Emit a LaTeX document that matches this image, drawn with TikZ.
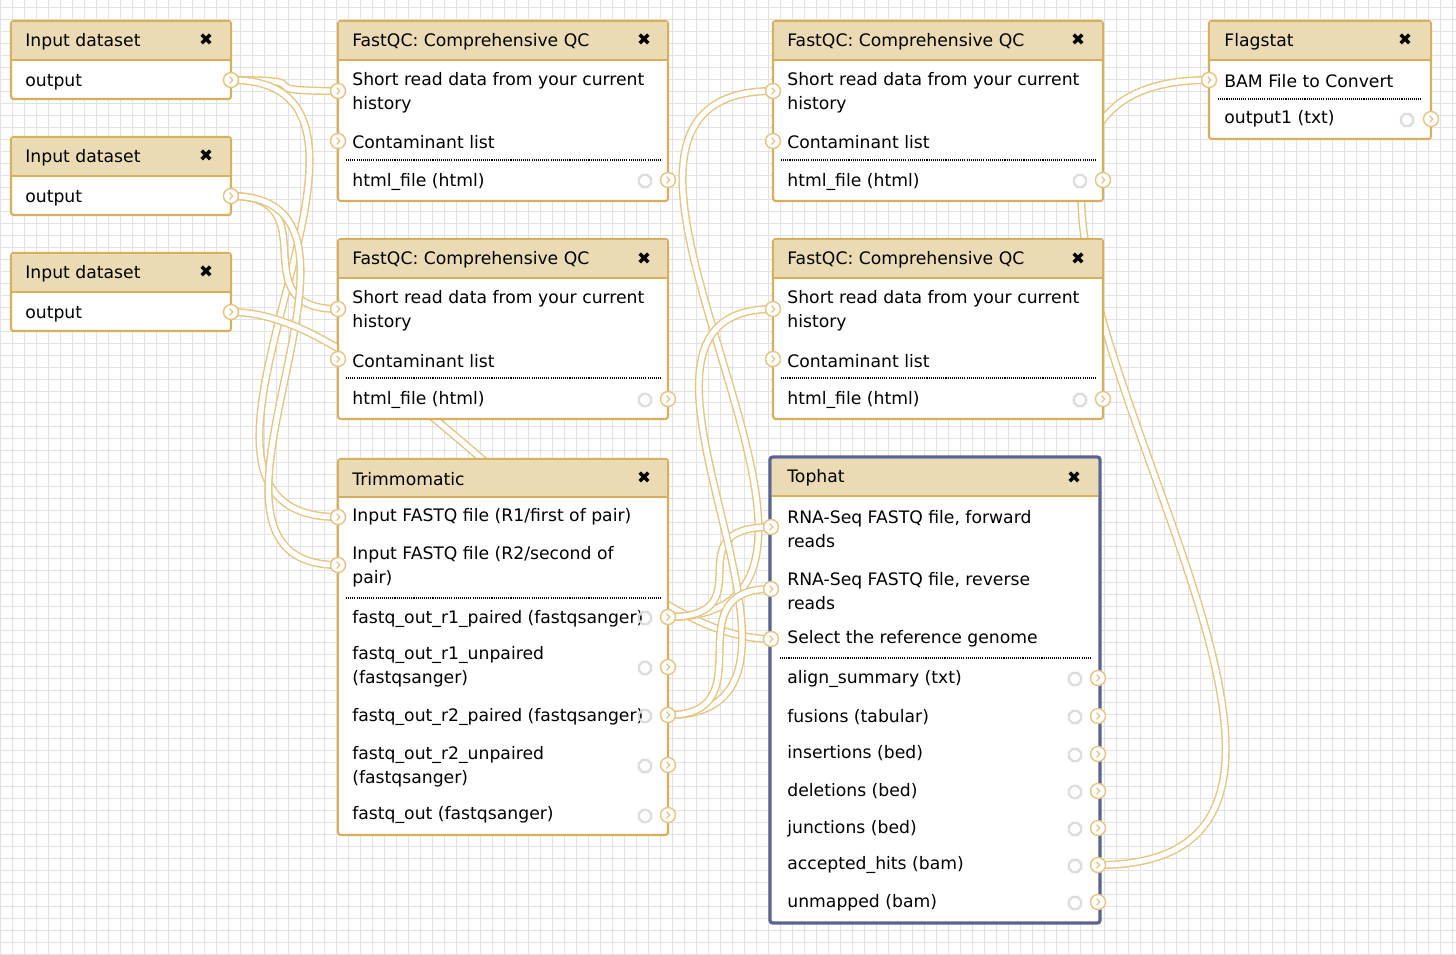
\documentclass[tikz,border=0pt]{standalone}
\usepackage{fontspec}
\setmainfont{DejaVu Sans}
\usetikzlibrary{shapes.geometric,backgrounds}

\definecolor{boxgold}{RGB}{214,175,95}
\definecolor{wiregold}{RGB}{226,196,132}
\definecolor{hdrtan}{RGB}{235,219,180}
\definecolor{topblue}{RGB}{91,100,145}
\definecolor{gridgray}{RGB}{226,226,226}
\definecolor{geargray}{RGB}{220,220,220}

\pgfdeclarelayer{grid}
\pgfdeclarelayer{wires}
\pgfsetlayers{grid,wires,main}

\tikzset{
	box/.style={draw=boxgold, line width=1.2pt, fill=white, rounded corners=1.5pt},
	selbox/.style={box, draw=topblue, line width=1.8pt},
	hline/.style={draw=boxgold, line width=1pt},
	sep/.style={line width=0.6pt, dash pattern=on 0.6pt off 0.6pt},
	title/.style={anchor=west, inner sep=0pt, yshift=-1.1pt},
	row/.style={anchor=west, align=left, inner sep=0pt, yshift=-1.1pt},
	closex/.style={inner sep=0pt, font=\fontsize{9.5}{10}\selectfont},
	port/.style={circle, draw=wiregold, fill=white, line width=0.8pt, minimum size=0.3cm, inner sep=0pt,
		path picture={\draw[wiregold, line width=0.7pt] ([xshift=-0.8pt,yshift=1.9pt]path picture bounding box.center) -- ++(1.8pt,-1.9pt) -- ++(-1.8pt,-1.9pt);}},
	gear/.style={regular polygon, regular polygon sides=8, draw=geargray, line width=1.3pt, minimum size=0.26cm, inner sep=0pt},
	wire/.style={draw=wiregold, line width=0.8pt, double=white, double distance=3pt},
	gridline/.style={draw=gridgray, line width=0.5pt}
}

\begin{document}
\begin{tikzpicture}[x=0.02cm, y=-0.02cm, font=\fontsize{9.8}{13.6}\selectfont]
	\useasboundingbox (0,0) rectangle (1456,954);
	\clip (0,0) rectangle (1456,954);
	
	\begin{pgfonlayer}{grid}
		\fill[white] (0,0) rectangle (1456,954);
		\draw[gridline, step=0.24cm, xshift=0.01cm, yshift=-0.14cm] (-0.24cm,-19.32cm) grid (29.36cm,0.24cm);
	\end{pgfonlayer}
	
	% input datasets
	\draw[box] (11,21) rectangle (231,99);
	\fill[hdrtan] (12,22) rectangle (230,60);
	\draw[hline] (12,60) -- (230,60);
	\node[title] (in1title) at (25,40) {Input dataset};
	\node[closex] (in1close) at (206,40) {✖};
	\node[row] (in1text) at (25,80) {output};
	\node[port] (in1out) at (231,80) {};
	
	\draw[box] (11,137) rectangle (231,215);
	\fill[hdrtan] (12,138) rectangle (230,176);
	\draw[hline] (12,176) -- (230,176);
	\node[title] (in2title) at (25,156) {Input dataset};
	\node[closex] (in2close) at (206,156) {✖};
	\node[row] (in2text) at (25,196) {output};
	\node[port] (in2out) at (231,196) {};
	
	\draw[box] (11,253) rectangle (231,331);
	\fill[hdrtan] (12,254) rectangle (230,292);
	\draw[hline] (12,292) -- (230,292);
	\node[title] (in3title) at (25,272) {Input dataset};
	\node[closex] (in3close) at (206,272) {✖};
	\node[row] (in3text) at (25,312) {output};
	\node[port] (in3out) at (231,312) {};
	
	% fastqc boxes
	\draw[box] (338,21) rectangle (668,201);
	\fill[hdrtan] (339,22) rectangle (667,60);
	\draw[hline] (339,60) -- (667,60);
	\node[title] (fq1title) at (352,40) {FastQC: Comprehensive QC};
	\node[closex] (fq1close) at (644,40) {✖};
	\node[row] (fq1short) at (352,91) {Short read data from your current\\history};
	\node[row] (fq1cont) at (352,140) {Contaminant list};
	\draw[sep] (346,160) -- (662,160);
	\node[row] (fq1html) at (352,180) {html\_file (html)};
	\node[port] (fq1in1) at (338,91) {};
	\node[port] (fq1in2) at (338,141) {};
	\node[gear] (fq1gear) at (645,181) {};
	\node[port] (fq1out) at (668,180) {};
	
	\draw[box] (338,239) rectangle (668,419);
	\fill[hdrtan] (339,240) rectangle (667,278);
	\draw[hline] (339,278) -- (667,278);
	\node[title] (fq2title) at (352,258) {FastQC: Comprehensive QC};
	\node[closex] (fq2close) at (644,259) {✖};
	\node[row] (fq2short) at (352,309) {Short read data from your current\\history};
	\node[row] (fq2cont) at (352,359) {Contaminant list};
	\draw[sep] (346,378) -- (662,378);
	\node[row] (fq2html) at (352,398) {html\_file (html)};
	\node[port] (fq2in1) at (338,309) {};
	\node[port] (fq2in2) at (338,359) {};
	\node[gear] (fq2gear) at (645,400) {};
	\node[port] (fq2out) at (668,399) {};
	
	\draw[box] (773,21) rectangle (1103,201);
	\fill[hdrtan] (774,22) rectangle (1102,60);
	\draw[hline] (774,60) -- (1102,60);
	\node[title] (fq3title) at (787,40) {FastQC: Comprehensive QC};
	\node[closex] (fq3close) at (1078,40) {✖};
	\node[row] (fq3short) at (787,91) {Short read data from your current\\history};
	\node[row] (fq3cont) at (787,140) {Contaminant list};
	\draw[sep] (781,160) -- (1097,160);
	\node[row] (fq3html) at (787,180) {html\_file (html)};
	\node[port] (fq3in1) at (773,91) {};
	\node[port] (fq3in2) at (773,141) {};
	\node[gear] (fq3gear) at (1080,181) {};
	\node[port] (fq3out) at (1103,180) {};
	
	\draw[box] (773,239) rectangle (1103,419);
	\fill[hdrtan] (774,240) rectangle (1102,278);
	\draw[hline] (774,278) -- (1102,278);
	\node[title] (fq4title) at (787,258) {FastQC: Comprehensive QC};
	\node[closex] (fq4close) at (1078,259) {✖};
	\node[row] (fq4short) at (787,309) {Short read data from your current\\history};
	\node[row] (fq4cont) at (787,359) {Contaminant list};
	\draw[sep] (781,378) -- (1097,378);
	\node[row] (fq4html) at (787,398) {html\_file (html)};
	\node[port] (fq4in1) at (773,309) {};
	\node[port] (fq4in2) at (773,359) {};
	\node[gear] (fq4gear) at (1080,400) {};
	\node[port] (fq4out) at (1103,399) {};
	
	% trimmomatic
	\draw[box] (338,459) rectangle (668,835);
	\fill[hdrtan] (339,460) rectangle (667,497);
	\draw[hline] (339,497) -- (667,497);
	\node[title] (trimtitle) at (352,477) {Trimmomatic};
	\node[closex] (trimclose) at (644,478) {✖};
	\node[row] (trimr1) at (352,515) {Input FASTQ file (R1/first of pair)};
	\node[row] (trimr2) at (352,565) {Input FASTQ file (R2/second of\\pair)};
	\draw[sep] (346,598) -- (662,598);
	\node[row] (trimt1) at (352,617) {fastq\_out\_r1\_paired (fastqsanger)};
	\node[row] (trimt2) at (352,665) {fastq\_out\_r1\_unpaired\\(fastqsanger)};
	\node[row] (trimt3) at (352,715) {fastq\_out\_r2\_paired (fastqsanger)};
	\node[row] (trimt4) at (352,765) {fastq\_out\_r2\_unpaired\\(fastqsanger)};
	\node[row] (trimt5) at (352,813) {fastq\_out (fastqsanger)};
	\node[port] (trimin1) at (338,517) {};
	\node[port] (trimin2) at (338,565) {};
	\node[gear] (trimg1) at (645,618) {};
	\node[gear] (trimg2) at (645,668) {};
	\node[gear] (trimg3) at (645,716) {};
	\node[gear] (trimg4) at (645,766) {};
	\node[gear] (trimg5) at (645,816) {};
	\node[port] (trimo1) at (668,617) {};
	\node[port] (trimo2) at (668,667) {};
	\node[port] (trimo3) at (668,715) {};
	\node[port] (trimo4) at (668,765) {};
	\node[port] (trimo5) at (668,815) {};
	
	% tophat
	\draw[selbox] (770,457) rectangle (1100,923);
	\fill[hdrtan] (772,459) rectangle (1098,496);
	\draw[hline] (772,496) -- (1098,496);
	\node[title] (thtitle) at (787,476) {Tophat};
	\node[closex] (thclose) at (1074,478) {✖};
	\node[row] (thfwd) at (787,527) {RNA-Seq FASTQ file, forward\\reads};
	\node[row] (threv) at (787,589) {RNA-Seq FASTQ file, reverse\\reads};
	\node[row] (thref) at (787,637) {Select the reference genome};
	\draw[sep] (780,658) -- (1092,658);
	\node[row] (tht1) at (787,677) {align\_summary (txt)};
	\node[row] (tht2) at (787,715) {fusions (tabular)};
	\node[row] (tht3) at (787,751) {insertions (bed)};
	\node[row] (tht4) at (787,789) {deletions (bed)};
	\node[row] (tht5) at (787,827) {junctions (bed)};
	\node[row] (tht6) at (787,863) {accepted\_hits (bam)};
	\node[row] (tht7) at (787,901) {unmapped (bam)};
	\node[port] (thin1) at (771,527) {};
	\node[port] (thin2) at (771,589) {};
	\node[port] (thin3) at (771,639) {};
	\node[gear] (thg1) at (1075,679) {};
	\node[gear] (thg2) at (1075,717) {};
	\node[gear] (thg3) at (1075,755) {};
	\node[gear] (thg4) at (1075,792) {};
	\node[gear] (thg5) at (1075,829) {};
	\node[gear] (thg6) at (1075,866) {};
	\node[gear] (thg7) at (1075,903) {};
	\node[port] (thsum) at (1098,678) {};
	\node[port] (thfus) at (1098,716) {};
	\node[port] (thins) at (1098,754) {};
	\node[port] (thdel) at (1098,791) {};
	\node[port] (thjun) at (1098,828) {};
	\node[port] (thacc) at (1098,865) {};
	\node[port] (thunm) at (1098,902) {};
	
	% flagstat
	\draw[box] (1209,21) rectangle (1431,139);
	\fill[hdrtan] (1210,22) rectangle (1430,60);
	\draw[hline] (1210,60) -- (1430,60);
	\node[title] (flagtitle) at (1224,40) {Flagstat};
	\node[closex] (flagclose) at (1405,40) {✖};
	\node[row] (flagbam) at (1224,79) {BAM File to Convert};
	\draw[sep] (1218,99) -- (1422,99);
	\node[row] (flagtxt) at (1224,117) {output1 (txt)};
	\node[port] (flagin) at (1209,80) {};
	\node[gear] (flaggear) at (1407,120) {};
	\node[port] (flagout) at (1431,119) {};
	
	% connections
	\begin{pgfonlayer}{wires}
		\draw[wire] (in1out.center) .. controls +(100,0) and +(-100,0) .. (fq1in1.center);
		\draw[wire] (in1out.center) .. controls +(218,0) and +(-218,0) .. (trimin1.center);
		\draw[wire] (in2out.center) .. controls +(100,0) and +(-100,0) .. (fq2in1.center);
		\draw[wire] (in2out.center) .. controls +(184,0) and +(-184,0) .. (trimin2.center);
		\draw[wire] (in3out.center) .. controls +(163,0) and +(-163,0) .. (thin3.center);
		\draw[wire] (trimo1.center) .. controls +(263,0) and +(-263,0) .. (fq3in1.center);
		\draw[wire] (trimo1.center) .. controls +(100,0) and +(-100,0) .. (thin1.center);
		\draw[wire] (trimo3.center) .. controls +(203,0) and +(-203,0) .. (fq4in1.center);
		\draw[wire] (trimo3.center) .. controls +(100,0) and +(-100,0) .. (thin2.center);
		\draw[wire] (thacc.center) .. controls +(392,0) and +(-392,0) .. (flagin.center);
	\end{pgfonlayer}
\end{tikzpicture}
\end{document}
